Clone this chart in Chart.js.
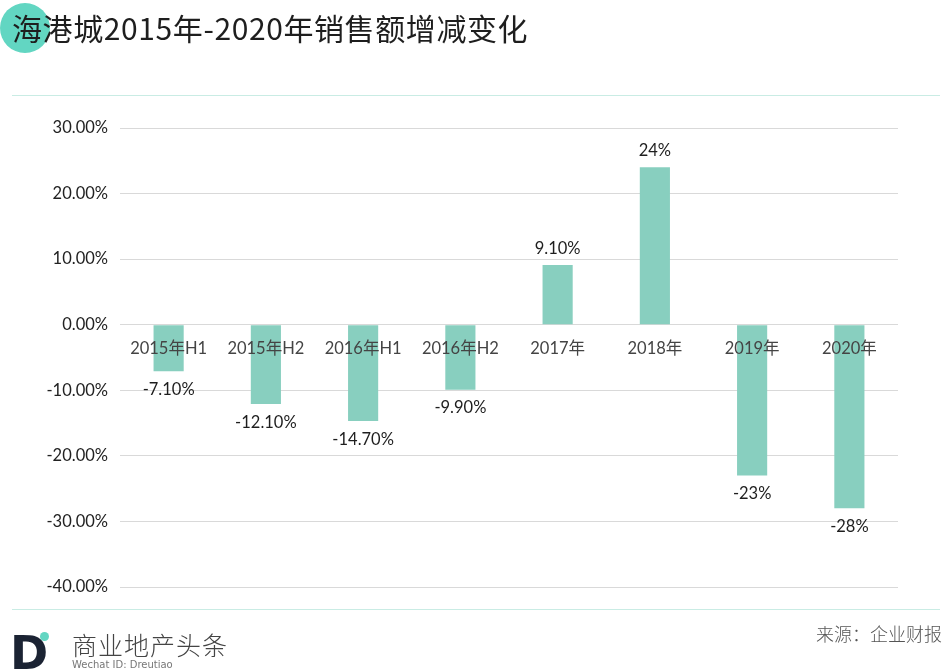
<!DOCTYPE html>
<html>
<head>
<meta charset="utf-8">
<script src="https://cdn.jsdelivr.net/npm/chart.js@4/dist/chart.umd.min.js"></script>
<style>
  body { margin: 0; background: #fff; }
  #wrap { position: relative; width: 952px; height: 672px; overflow: hidden; background: #fff; }
  #chart { position: absolute; left: 0; top: 0; }
  .dot { position: absolute; left: 0; top: 3px; width: 50px; height: 50px; border-radius: 50%; background: #62d6c2; }
  .title { position: absolute; left: 12px; top: 5px; font: 30px "Noto Sans CJK SC", sans-serif; color: #1e1e1e; white-space: nowrap; letter-spacing: 0.6px; }
  .line { position: absolute; left: 12px; width: 928px; height: 1px; background: #c9ece4; }
  .logo { position: absolute; left: 10px; top: 630px; font: bold 46px "DejaVu Sans", sans-serif; color: #1b2333; line-height: 46px; }
  .logodot { position: absolute; left: 40px; top: 632px; width: 9px; height: 9px; border-radius: 50%; background: #62d6c2; }
  .brand { position: absolute; left: 72px; top: 626px; font: 300 25px "Noto Sans CJK SC", sans-serif; color: #444; letter-spacing: 1px; }
  .wechat { position: absolute; left: 72px; top: 659px; font: 10px "DejaVu Sans", sans-serif; color: #777; line-height: 11px; }
  .source { position: absolute; right: 10px; top: 620px; font: 300 18px "Noto Sans CJK SC", sans-serif; color: #555; }
</style>
</head>
<body>
<div id="wrap">
  <canvas id="chart" width="952" height="672"></canvas>
  <div class="dot"></div>
  <div class="title">海港城2015年-2020年销售额增减变化</div>
  <div class="line" style="top:95px"></div>
  <div class="line" style="top:609px"></div>
  <div class="logo">D</div>
  <div class="logodot"></div>
  <div class="brand">商业地产头条</div>
  <div class="wechat">Wechat ID: Dreutiao</div>
  <div class="source">来源：企业财报</div>
</div>
<script>
const categories = ['2015年H1', '2015年H2', '2016年H1', '2016年H2', '2017年', '2018年', '2019年', '2020年'];
const changeValues = [-7.1, -12.1, -14.7, -9.9, 9.1, 24, -23, -28];
const valueLabels = ['-7.10%', '-12.10%', '-14.70%', '-9.90%', '9.10%', '24%', '-23%', '-28%'];

const fontFamily = "Lato, 'Noto Sans CJK SC', sans-serif";

// labels: values next to bars, categories sitting on the zero line
const labelPlugin = {
    id: 'labels',
    afterDatasetsDraw(chart) {
        const ctx = chart.ctx;
        const meta = chart.getDatasetMeta(0);
        const xScale = chart.scales.x;
        const yScale = chart.scales.y;
        const zeroY = yScale.getPixelForValue(0);
        ctx.save();
        ctx.font = '16.5px ' + fontFamily;
        ctx.textAlign = 'center';
        ctx.fillStyle = '#444';
        ctx.textBaseline = 'middle';
        categories.forEach((c, i) => {
            ctx.fillText(c, xScale.getPixelForValue(i), zeroY + 24);
        });
        ctx.fillStyle = '#1e1e1e';
        meta.data.forEach((bar, i) => {
            if (changeValues[i] >= 0) {
                ctx.textBaseline = 'bottom';
                ctx.fillText(valueLabels[i], bar.x, bar.y - 8);
            } else {
                ctx.textBaseline = 'top';
                ctx.fillText(valueLabels[i], bar.x, bar.y + 10);
            }
        });
        ctx.restore();
    }
};

const ctx = document.querySelector('#chart').getContext('2d');
const chart = new Chart(ctx, {
    type: 'bar',
    data: {
        labels: categories,
        datasets: [{
            data: changeValues,
            backgroundColor: '#88cfbf',
            barPercentage: 0.62,
            categoryPercentage: 0.5
        }]
    },
    options: {
        responsive: false,
        animation: false,
        layout: {
            padding: { top: 128, right: 54, bottom: 85, left: 0 }
        },
        scales: {
            x: {
                display: false
            },
            y: {
                min: -40,
                max: 30,
                afterFit(scale) { scale.width = 120; },
                ticks: {
                    stepSize: 10,
                    padding: 12,
                    color: '#222',
                    font: { size: 16.5, family: fontFamily },
                    callback: v => v.toFixed(2) + '%'
                },
                grid: {
                    color: '#d9d9d9',
                    drawTicks: false
                },
                border: { display: false }
            }
        },
        plugins: {
            legend: { display: false },
            tooltip: { enabled: false }
        }
    },
    plugins: [labelPlugin]
});
</script>
</body>
</html>
